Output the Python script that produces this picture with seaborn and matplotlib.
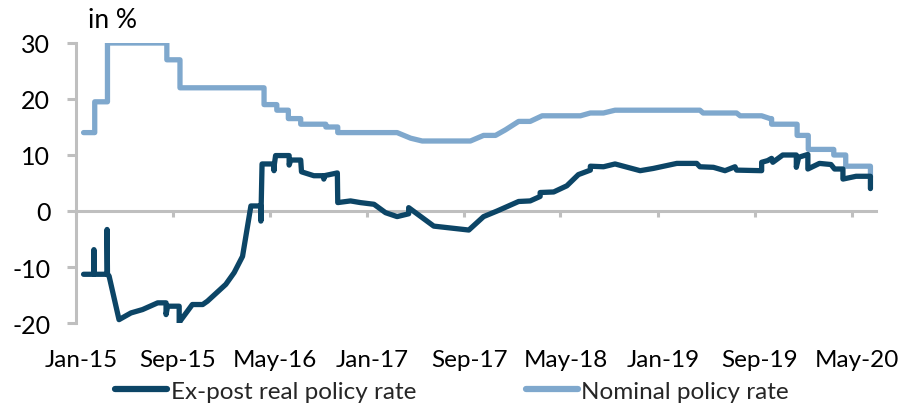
import matplotlib
matplotlib.use("Agg")
import matplotlib.pyplot as plt
import matplotlib.dates as mdates
import matplotlib.transforms as mtransforms
import seaborn as sns
import pandas as pd

# ---------------- data ----------------
nominal_dates = [
    "2015-01-20", "2015-02-17", "2015-02-17", "2015-03-21", "2015-03-21",
    "2015-08-17", "2015-08-17", "2015-09-19", "2015-09-19", "2016-04-17",
    "2016-04-17", "2016-05-19", "2016-05-19", "2016-06-17", "2016-06-17",
    "2016-07-18", "2016-07-18", "2016-09-19", "2016-09-19", "2016-10-19",
    "2016-10-19", "2017-03-17", "2017-04-20", "2017-05-19", "2017-09-17",
    "2017-10-20", "2017-11-19", "2017-12-14", "2018-01-16", "2018-02-14",
    "2018-03-16", "2018-06-20", "2018-07-15", "2018-08-17", "2018-09-15",
    "2019-04-16", "2019-04-24", "2019-07-17", "2019-07-26", "2019-09-18",
    "2019-10-09", "2019-10-13", "2019-10-13", "2019-12-16", "2019-12-16",
    "2020-01-13", "2020-01-13", "2020-03-17", "2020-03-17", "2020-04-16",
    "2020-04-16", "2020-06-17", "2020-06-17",
]
nominal_values = [
    14.0, 14.0, 19.5, 19.5, 30.0,
    30.0, 27.0, 27.0, 22.0, 22.0,
    19.0, 19.0, 18.0, 18.0, 16.5,
    16.5, 15.5, 15.5, 15.0, 15.0,
    14.0, 14.0, 13.0, 12.5, 12.5,
    13.5, 13.5, 14.5, 16.0, 16.0,
    17.0, 17.0, 17.5, 17.5, 18.0,
    18.0, 17.5, 17.5, 17.0, 17.0,
    16.5, 16.5, 15.5, 15.5, 13.5,
    13.5, 11.0, 11.0, 10.0, 10.0,
    8.0, 8.0, 6.0,
]

real_dates = [
    "2015-01-20", "2015-02-15", "2015-02-15", "2015-02-16", "2015-03-20",
    "2015-03-20", "2015-03-21", "2015-03-25", "2015-04-19", "2015-05-19",
    "2015-06-17", "2015-07-25", "2015-08-15", "2015-08-15", "2015-08-19",
    "2015-09-17", "2015-09-17", "2015-09-21", "2015-10-20", "2015-11-15",
    "2015-11-27", "2016-01-12", "2016-02-02", "2016-02-23", "2016-03-15",
    "2016-04-09", "2016-04-09", "2016-04-12", "2016-05-12", "2016-05-12",
    "2016-05-13", "2016-05-16", "2016-06-19", "2016-06-19", "2016-06-23",
    "2016-07-18", "2016-07-20", "2016-08-20", "2016-09-14", "2016-09-14",
    "2016-09-15", "2016-10-18", "2016-10-19", "2016-11-20", "2016-12-15",
    "2017-01-18", "2017-02-16", "2017-03-17", "2017-04-15", "2017-04-15",
    "2017-06-17", "2017-09-13", "2017-10-20", "2017-11-23", "2018-01-16",
    "2018-02-14", "2018-03-11", "2018-03-11", "2018-04-14", "2018-05-17",
    "2018-06-15", "2018-07-15", "2018-07-15", "2018-08-17", "2018-09-15",
    "2018-11-17", "2018-12-20", "2019-02-17", "2019-04-08", "2019-04-16",
    "2019-05-20", "2019-06-18", "2019-07-13", "2019-07-17", "2019-09-18",
    "2019-09-18", "2019-10-03", "2019-10-13", "2019-10-16", "2019-11-10",
    "2019-12-14", "2019-12-14", "2019-12-20", "2020-01-12", "2020-01-12",
    "2020-02-10", "2020-03-10", "2020-03-19", "2020-04-09", "2020-04-09",
    "2020-05-12", "2020-06-17", "2020-06-17",
]
real_values = [
    -11.3, -11.3, -6.9, -11.3, -11.3,
    -3.3, -11.3, -11.6, -19.4, -18.2,
    -17.6, -16.4, -16.4, -18.5, -17.0,
    -17.0, -20.0, -19.5, -16.7, -16.7,
    -16.1, -13.1, -11.0, -8.1, 0.9,
    0.9, -1.8, 8.4, 8.4, 7.2,
    8.4, 9.9, 9.9, 8.2, 9.1,
    9.1, 7.0, 6.3, 6.3, 5.7,
    6.3, 6.8, 1.5, 1.8, 1.5,
    1.2, -0.3, -1.0, -0.5, 0.6,
    -2.7, -3.4, -1.0, 0.0, 1.7,
    1.8, 2.6, 3.3, 3.4, 4.5,
    6.5, 7.3, 8.0, 7.9, 8.4,
    7.2, 7.6, 8.5, 8.5, 7.9,
    7.8, 7.2, 7.9, 7.3, 7.2,
    8.7, 9.0, 9.4, 8.7, 10.0,
    10.0, 7.8, 9.6, 10.1, 7.5,
    8.5, 8.3, 7.5, 7.5, 5.7,
    6.2, 6.2, 4.0,
]

tick_dates = ["2015-01-01", "2015-09-01", "2016-05-01", "2017-01-01", "2017-09-01",
              "2018-05-01", "2019-01-01", "2019-09-01", "2020-05-01"]
tick_labels = ["Jan-15", "Sep-15", "May-16", "Jan-17", "Sep-17",
               "May-18", "Jan-19", "Sep-19", "May-20"]
y_ticks = [-20, -10, 0, 10, 20, 30]

series_real = "Ex-post real policy rate"
series_nominal = "Nominal policy rate"

# ---------------- build table ----------------
df = pd.concat([
    pd.DataFrame({"date": pd.to_datetime(real_dates), "value": real_values,
                  "series": series_real}),
    pd.DataFrame({"date": pd.to_datetime(nominal_dates), "value": nominal_values,
                  "series": series_nominal}),
], ignore_index=True)
df["x"] = mdates.date2num(df["date"])

# ---------------- style ----------------
sns.set_theme(style="white")
plt.rcParams["font.family"] = ["Lato", "DejaVu Sans"]

DARK = "#0c4566"
LIGHT = "#7fa8cd"
GREY = "#bfbfbf"

fig = plt.figure(figsize=(9.04, 4.06), dpi=100)
ax = fig.add_axes([76 / 904, 1 - 324 / 406, (876 - 76) / 904, (324 - 44) / 406])

for name, color, z in [(series_nominal, LIGHT, 2), (series_real, DARK, 3)]:
    sub = df[df["series"] == name]
    sns.lineplot(x=sub["x"].to_numpy(), y=sub["value"].to_numpy(), sort=False,
                 estimator=None, ax=ax, color=color, linewidth=3.8,
                 solid_capstyle="round", solid_joinstyle="round", label=name,
                 zorder=z)
if ax.get_legend() is not None:
    ax.get_legend().remove()

x0 = mdates.date2num(pd.Timestamp("2015-01-01"))
x1 = mdates.date2num(pd.Timestamp("2020-07-01"))
ax.set_xlim(x0, x1)
ax.set_ylim(-20, 30)

# spines
for s in ["top", "right"]:
    ax.spines[s].set_visible(False)
ax.spines["left"].set_color(GREY)
ax.spines["left"].set_linewidth(2.2)
ax.spines["bottom"].set_position(("data", 0))
ax.spines["bottom"].set_color(GREY)
ax.spines["bottom"].set_linewidth(2.2)
ax.spines["bottom"].set_zorder(1)

ax.set_yticks(y_ticks)
ax.set_yticklabels([str(v) for v in y_ticks])
ax.tick_params(axis="y", direction="out", length=6.5, width=2.2, color=GREY,
               pad=12, labelsize=18, labelcolor="black", left=True)

tick_pos = mdates.date2num(pd.to_datetime(tick_dates))
ax.set_xticks(tick_pos)
ax.tick_params(axis="x", direction="out", length=4, width=2.2, color=GREY,
               labelbottom=False, bottom=True)

sec = ax.secondary_xaxis(0)
sec.set_xticks(tick_pos)
sec.set_xticklabels(tick_labels)
sec.spines["bottom"].set_visible(False)
sec.tick_params(axis="x", length=0, pad=19, labelsize=17.5, labelcolor="black")
shift = mtransforms.ScaledTranslation(5 / 100, 0, fig.dpi_scale_trans)
for lbl in sec.get_xticklabels():
    lbl.set_transform(lbl.get_transform() + shift)

ax.set_xlabel("")
ax.set_ylabel("")
ax.grid(False)

fig.text(88 / 904, 1 - 20 / 406, "in %", fontsize=19, ha="left", va="center", color="black")

handles, labels = ax.get_legend_handles_labels()
order = [labels.index(series_real), labels.index(series_nominal)]
leg = fig.legend([handles[i] for i in order], [labels[i] for i in order],
                 loc="center", bbox_to_anchor=(0.5, 1 - 392 / 406), ncol=2,
                 frameon=False, fontsize=17.5, handlelength=2.15, handletextpad=0.15,
                 columnspacing=4.5)
for lh in leg.get_lines():
    lh.set_linewidth(4.5)
    lh.set_solid_capstyle("round")

fig.savefig("out.png", dpi=100)
